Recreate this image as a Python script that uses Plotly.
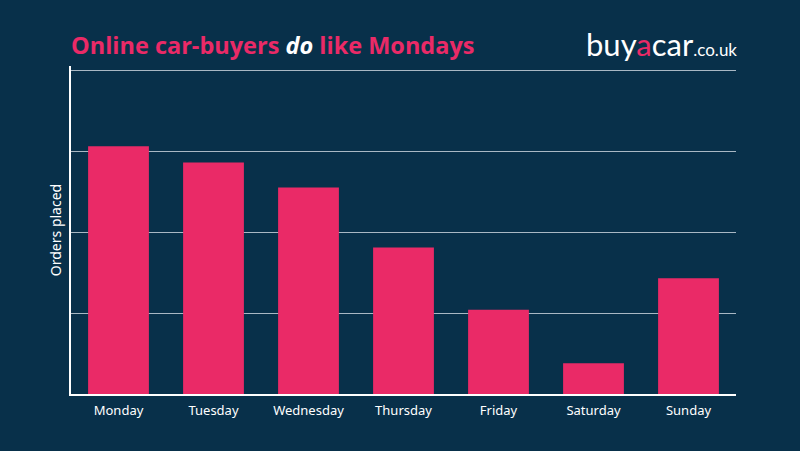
import plotly.graph_objects as go

days = ["Monday", "Tuesday", "Wednesday", "Thursday", "Friday", "Saturday", "Sunday"]
orders = [3.06, 2.86, 2.55, 1.81, 1.04, 0.38, 1.43]

BG = "#08304a"
PINK = "#ea2a67"

fig = go.Figure(go.Bar(x=days, y=orders, marker=dict(color=PINK, line=dict(width=0)), width=0.64))

fig.update_layout(
    width=800, height=451,
    paper_bgcolor=BG, plot_bgcolor=BG,
    margin=dict(l=71, r=64, t=66, b=57),
    showlegend=False,
    font=dict(family="Noto Sans, Open Sans, sans-serif", color="white"),
)
fig.update_xaxes(
    showline=True, linecolor="white", linewidth=2,
    showgrid=False, ticks="", tickfont=dict(size=13, color="white"),
    ticklabelstandoff=3,
    range=[-0.5, 6.5],
)
fig.update_yaxes(
    range=[0, 4.05], dtick=1, showticklabels=False,
    showgrid=True, gridcolor="#a9b8c4", gridwidth=1,
    showline=True, linecolor="white", linewidth=2, zeroline=False,
    title=dict(text="Orders placed", font=dict(size=14, color="white"), standoff=4),
)
fig.add_annotation(
    xref="paper", yref="paper", x=0, y=1, yanchor="bottom", xanchor="left", yshift=3, xshift=-2,
    text="<b>Online car-buyers <span style='color:white'><i>do</i></span> like Mondays</b>",
    showarrow=False, font=dict(size=23.5, color=PINK, family="Open Sans, Noto Sans, sans-serif"),
)
fig.add_annotation(
    xref="paper", yref="paper", x=1, y=1, yanchor="bottom", xanchor="right", yshift=1, xshift=3,
    text="buy<span style='color:%s'>a</span>car<span style='font-size:17px'>.co.uk</span>" % PINK,
    showarrow=False, font=dict(size=31, color="white", family="Lato, Noto Sans, sans-serif"),
)
fig.write_html(
    "out.html",
    config={"displayModeBar": False},
    post_script="document.body.style.margin='0';document.body.style.background='%s';" % BG,
)
